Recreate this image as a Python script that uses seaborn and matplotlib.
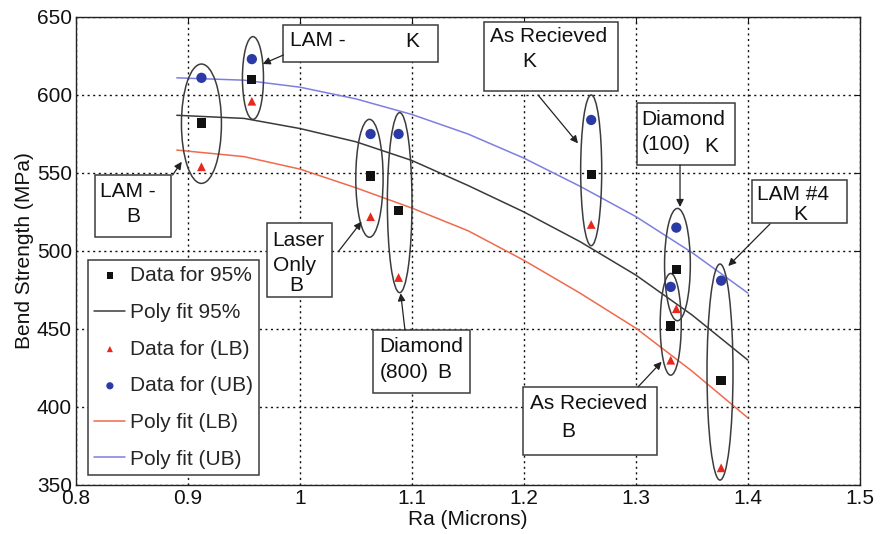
import numpy as np
import pandas as pd
import matplotlib
matplotlib.use("Agg")
import matplotlib.pyplot as plt
from matplotlib.patches import Ellipse, Rectangle
import seaborn as sns

# Measured surface roughness (Ra) of each specimen set
ra = [0.912, 0.957, 1.063, 1.088, 1.260, 1.336, 1.331, 1.376]
# Bend strength estimates (MPa): 95% value, lower and upper bounds
strength_95 = [582, 610, 548, 526, 549, 488, 452, 417]
strength_lb = [554, 596, 522, 483, 517, 463, 430, 361]
strength_ub = [611, 623, 575, 575, 584, 515, 477, 481]

# Polynomial fit curves, sampled along Ra
fit_ra = [0.89, 0.95, 1.00, 1.05, 1.10, 1.15, 1.20, 1.25, 1.30, 1.35, 1.40]
fit_95 = [587, 585, 578.5, 570, 558, 542, 525, 506, 484.5, 459, 430]
fit_lb = [564.7, 560.5, 552.5, 540.5, 527.5, 513, 494, 473, 450.5, 423, 393]
fit_ub = [611, 609.5, 605, 597.5, 587.5, 575, 559.5, 541.5, 522, 499, 473]

x_ticks = [0.8, 0.9, 1.0, 1.1, 1.2, 1.3, 1.4, 1.5]
x_tick_labels = ["0.8", "0.9", "1", "1.1", "1.2", "1.3", "1.4", "1.5"]
y_ticks = [350, 400, 450, 500, 550, 600, 650]

sns.set_theme(style="white")
plt.rcParams["font.family"] = ["Liberation Sans", "DejaVu Sans"]
NARROW = ["Liberation Sans Narrow", "Liberation Sans", "DejaVu Sans"]

C_BLACK = "#111111"
C_RED = "#e8281c"
C_BLUE = "#2c3aa6"
C_RED_LINE = "#f06a4c"
C_BLUE_LINE = "#7d7fe0"
C_FIT = "#3a3a3a"
C_EDGE = "#3c3c3c"

points = pd.DataFrame({"ra": ra, "s95": strength_95, "lb": strength_lb, "ub": strength_ub})
fits = pd.DataFrame({"ra": fit_ra, "f95": fit_95, "flb": fit_lb, "fub": fit_ub})

fig = plt.figure(figsize=(8.87, 5.34), dpi=100)
ax = fig.add_axes([76 / 887, 1 - 485 / 534, 784 / 887, 468 / 534])

sns.lineplot(data=fits, x="ra", y="f95", ax=ax, color=C_FIT, lw=1.1, label="Poly fit 95%")
sns.lineplot(data=fits, x="ra", y="flb", ax=ax, color=C_RED_LINE, lw=1.1, label="Poly fit (LB)")
sns.lineplot(data=fits, x="ra", y="fub", ax=ax, color=C_BLUE_LINE, lw=1.1, label="Poly fit (UB)")

sns.scatterplot(data=points, x="ra", y="s95", ax=ax, marker="s", s=45, color=C_BLACK,
                edgecolor="none", label="Data for 95%", zorder=5)
sns.scatterplot(data=points, x="ra", y="lb", ax=ax, marker="^", s=40, color=C_RED,
                edgecolor="none", label="Data for (LB)", zorder=5)
sns.scatterplot(data=points, x="ra", y="ub", ax=ax, marker="o", s=55, color=C_BLUE,
                edgecolor="none", label="Data for (UB)", zorder=5)

# Ellipses grouping each specimen set: (centre x, centre y, width, height)
groups = [
    (0.912, 581.6, 0.0357, 76.5),
    (0.958, 610.9, 0.0188, 53.0),
    (1.062, 546.6, 0.0244, 75.6),
    (1.089, 531.0, 0.0220, 115.4),
    (1.260, 551.7, 0.0188, 96.6),
    (1.337, 491.3, 0.0230, 72.0),
    (1.331, 453.0, 0.0188, 65.2),
    (1.375, 422.4, 0.0232, 138.5),
]
for cx, cy, w, h in groups:
    ax.add_patch(Ellipse((cx, cy), w, h, fill=False, ec=C_EDGE, lw=1.1, zorder=4))

FS = 15
# Label boxes: (x0, y0, x1, y1)
boxes = [
    (0.817, 508.8, 0.8845, 548.7),
    (0.9848, 621.2, 1.1232, 644.9),
    (1.1643, 602.8, 1.2842, 647.0),
    (1.3006, 555.1, 1.3884, 595.1),
    (1.4033, 517.8, 1.4887, 545.5),
    (1.1994, 369.2, 1.3184, 413.0),
    (1.0649, 408.8, 1.1518, 449.4),
    (0.9702, 470.3, 1.0282, 518.1),
]
for x0, y0, x1, y1 in boxes:
    ax.add_patch(Rectangle((x0, y0), x1 - x0, y1 - y0, fc="white", ec=C_EDGE,
                           lw=1.1, zorder=6))

labels = [
    (0.8214, 538.0, "LAM -", "left"),
    (0.8513, 521.8, "B", "center"),
    (0.991, 635.0, "LAM -", "left"),
    (1.100, 634.0, "K", "center"),
    (1.1696, 637.4, "As Recieved", "left"),
    (1.205, 621.4, "K", "center"),
    (1.305, 584.6, "Diamond", "left"),
    (1.305, 568.0, "(100)", "left"),
    (1.3676, 566.7, "K", "center"),
    (1.4078, 535.9, "LAM #4", "left"),
    (1.447, 523.7, "K", "center"),
    (1.2054, 402.4, "As Recieved", "left"),
    (1.2396, 384.3, "B", "center"),
    (1.0708, 438.7, "Diamond", "left"),
    (1.0708, 421.8, "(800)", "left"),
    (1.1286, 421.8, "B", "center"),
    (0.9756, 506.5, "Laser", "left"),
    (0.9756, 491.0, "Only", "left"),
    (0.997, 477.9, "B", "center"),
]
for tx, ty, s, ha in labels:
    ax.text(tx, ty, s, ha=ha, va="center", fontsize=FS, color="#111111", zorder=7)

# Arrows from each label box to its ellipse: (from x, from y, to x, to y)
arrows = [
    (0.8863, 548.7, 0.8944, 557.2),
    (0.9851, 625.6, 0.9667, 619.9),
    (1.2125, 600.0, 1.2482, 569.0),
    (1.3393, 555.1, 1.3393, 528.2),
    (1.4196, 517.3, 1.3824, 490.4),
    (1.3020, 413.0, 1.3229, 429.0),
    (1.0937, 449.4, 1.0899, 472.9),
    (1.0342, 499.6, 1.0550, 518.8),
]
for x0, y0, x1, y1 in arrows:
    ax.annotate("", xy=(x1, y1), xytext=(x0, y0),
                arrowprops=dict(arrowstyle="-|>", color="#222222", lw=0.9,
                                mutation_scale=11, shrinkA=0, shrinkB=0),
                zorder=7)

ax.set_xlim(0.8, 1.5)
ax.set_ylim(350, 650)
ax.set_xticks(x_ticks)
ax.set_xticklabels(x_tick_labels)
ax.set_yticks(y_ticks)
ax.grid(True, color="#111111", linestyle=(0, (1.5, 2.5)), linewidth=1.0)
ax.set_axisbelow(True)
for sp in ax.spines.values():
    sp.set_color("#222222")
    sp.set_linewidth(1.0)
ax.tick_params(direction="in", length=4, width=0.8, top=True, right=True,
               labelsize=15, pad=3, colors="#111111")
for lab in ax.get_xticklabels() + ax.get_yticklabels():
    lab.set_family(NARROW)
ax.set_xlabel("Ra (Microns)", fontsize=15, labelpad=1, color="#111111", family=NARROW)
ax.set_ylabel("Bend Strength (MPa)", fontsize=15, labelpad=2, color="#111111", family=NARROW)

handles, names = ax.get_legend_handles_labels()
lookup = dict(zip(names, handles))
order = ["Data for 95%", "Poly fit 95%", "Data for (LB)", "Data for (UB)",
         "Poly fit (LB)", "Poly fit (UB)"]
leg = ax.legend([lookup[k] for k in order], order, loc="upper left",
                bbox_to_anchor=(0.0153, 0.481), fontsize=FS, frameon=True,
                fancybox=False, edgecolor=C_EDGE, framealpha=1.0,
                handlelength=1.5, handletextpad=0.2, labelspacing=0.85,
                borderpad=0.3, borderaxespad=0.0, markerscale=0.7)
leg.get_frame().set_linewidth(1.1)
leg.set_zorder(8)

fig.savefig("out.png", dpi=100)
